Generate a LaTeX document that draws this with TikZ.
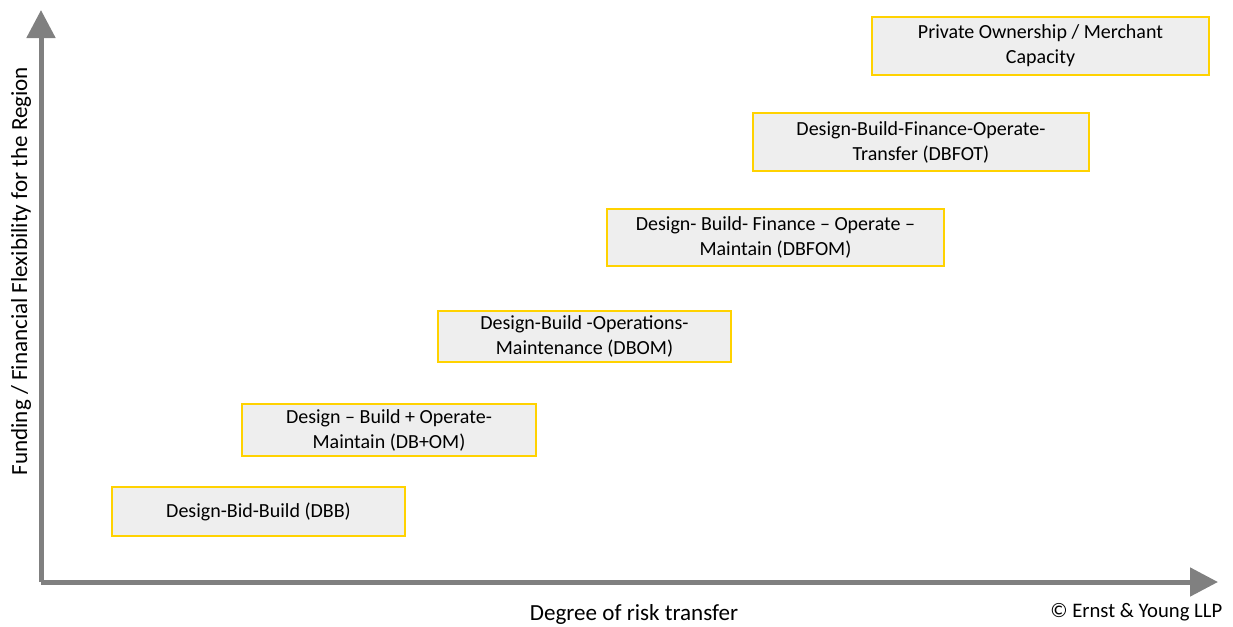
\documentclass[tikz,border=0pt]{standalone}
\usepackage{fontspec}
\setmainfont{Carlito}
\usetikzlibrary{arrows.meta}
\definecolor{axisgray}{HTML}{808080}
\definecolor{boxyellow}{HTML}{FFD200}
\definecolor{boxfill}{HTML}{EEEEEE}
\tikzset{
  regime/.style={draw=boxyellow, fill=boxfill, line width=1.5pt, align=center,
    inner sep=0pt, font=\fontsize{15}{18.75}\selectfont},
  axis/.style={draw=axisgray, line width=3.75pt, -{Triangle[length=21pt,width=21pt]}},
  axislabel/.style={font=\fontsize{17.3}{20}\selectfont, text=black}
}
\begin{document}
\begin{tikzpicture}[x=0.75pt,y=-0.75pt]
    \useasboundingbox (0,0) rectangle (1233,626);
    % axes
    \coordinate (O) at (41,582);
    \coordinate (Ytop) at (41,10);
    \coordinate (Xend) at (1218,582);
    \draw[axis] (O) -- (Ytop);
    \draw[axis] (O) -- (Xend);
    \node[axislabel, rotate=90] (ylab) at (21,271) {Funding / Financial Flexibility for the Region};
    \node[axislabel] (xlab) at (634,614) {Degree of risk transfer};
    \node[axislabel, font=\fontsize{15.5}{18}\selectfont, anchor=east] (copy) at (1227,612) {© Ernst \& Young LLP};
    % delivery models
    \node[regime, minimum width=219.75pt, minimum height=36.75pt] (dbb) at (258.5,511.5) {Design-Bid-Build (DBB)};
    \node[regime, minimum width=220.5pt, minimum height=39pt] (dbom1) at (389,430) {Design – Build + Operate-\\Maintain (DB+OM)};
    \node[regime, minimum width=219.75pt, minimum height=38.25pt] (dbom) at (584.5,336.5) {Design-Build -Operations-\\Maintenance (DBOM)};
    \node[regime, minimum width=252.75pt, minimum height=42.75pt] (dbfom) at (775.5,237.5) {Design- Build- Finance – Operate –\\Maintain (DBFOM)};
    \node[regime, minimum width=252pt, minimum height=43.5pt] (dbfot) at (921,142) {Design-Build-Finance-Operate-\\Transfer (DBFOT)};
    \node[regime, minimum width=252.75pt, minimum height=43.5pt] (private) at (1040.5,46) {Private Ownership / Merchant\\Capacity};
\end{tikzpicture}
\end{document}
